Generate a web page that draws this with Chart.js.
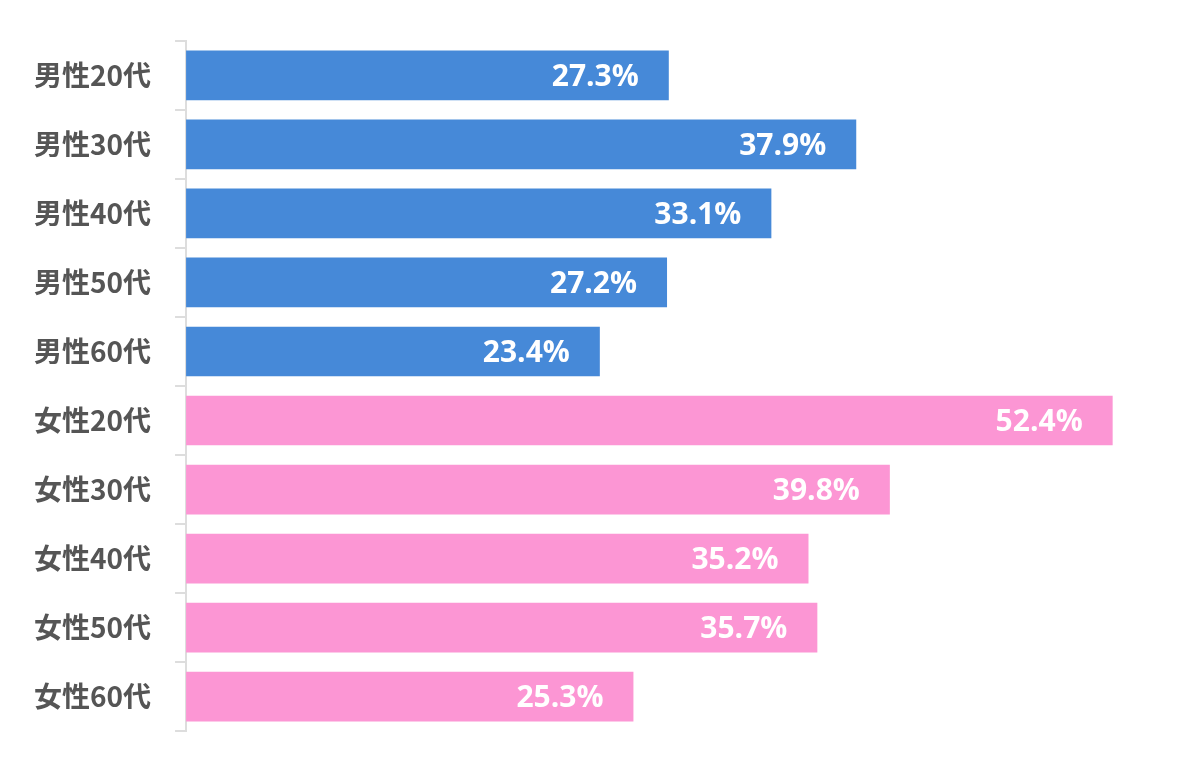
<!DOCTYPE html>
<html><head><meta charset="utf-8">
<script src="https://cdn.jsdelivr.net/npm/chart.js@4"></script>
<style>body{margin:0;background:#fff}</style>
</head><body><canvas id="c" width="1194" height="772"></canvas>
<script>
var categories = ['男性20代','男性30代','男性40代','男性50代','男性60代','女性20代','女性30代','女性40代','女性50代','女性60代']
var values = [27.3, 37.9, 33.1, 27.2, 23.4, 52.4, 39.8, 35.2, 35.7, 25.3]
var colors = ['#4689d8','#4689d8','#4689d8','#4689d8','#4689d8','#fc96d4','#fc96d4','#fc96d4','#fc96d4','#fc96d4']

// white value labels inside each bar end
var valueLabels = {
    id: 'valueLabels',
    afterDatasetsDraw: function(chart) {
        var ctx = chart.ctx
        ctx.save()
        ctx.font = 'bold 30px "Open Sans", sans-serif'
        ctx.fillStyle = '#fff'
        ctx.textAlign = 'right'
        ctx.textBaseline = 'middle'
        chart.getDatasetMeta(0).data.forEach(function(bar, i) {
            ctx.fillText(values[i].toFixed(1) + '%', bar.x - 30, bar.y + 2)
        })
        ctx.restore()
    }
}

new Chart(document.getElementById('c'), {
    type: 'bar',
    data: {
        labels: categories,
        datasets: [{ data: values, backgroundColor: colors, categoryPercentage: 0.72, barPercentage: 1 }]
    },
    plugins: [valueLabels],
    options: {
        indexAxis: 'y',
        responsive: false,
        animation: false,
        layout: { padding: { top: 31, bottom: 31, left: 10, right: 0 } },
        plugins: { legend: { display: false }, tooltip: { enabled: false } },
        scales: {
            x: { display: false, min: 0, max: 57 },
            y: {
                offset: true,
                border: { color: '#ddd', width: 2 },
                grid: { display: true, drawOnChartArea: false, offset: true, tickLength: 11, color: '#ddd', lineWidth: 2 },
                ticks: { color: '#555', padding: 24, font: { size: 28, weight: 'bold', family: '"Noto Sans CJK JP", sans-serif' } }
            }
        }
    }
})
</script>
</body></html>
